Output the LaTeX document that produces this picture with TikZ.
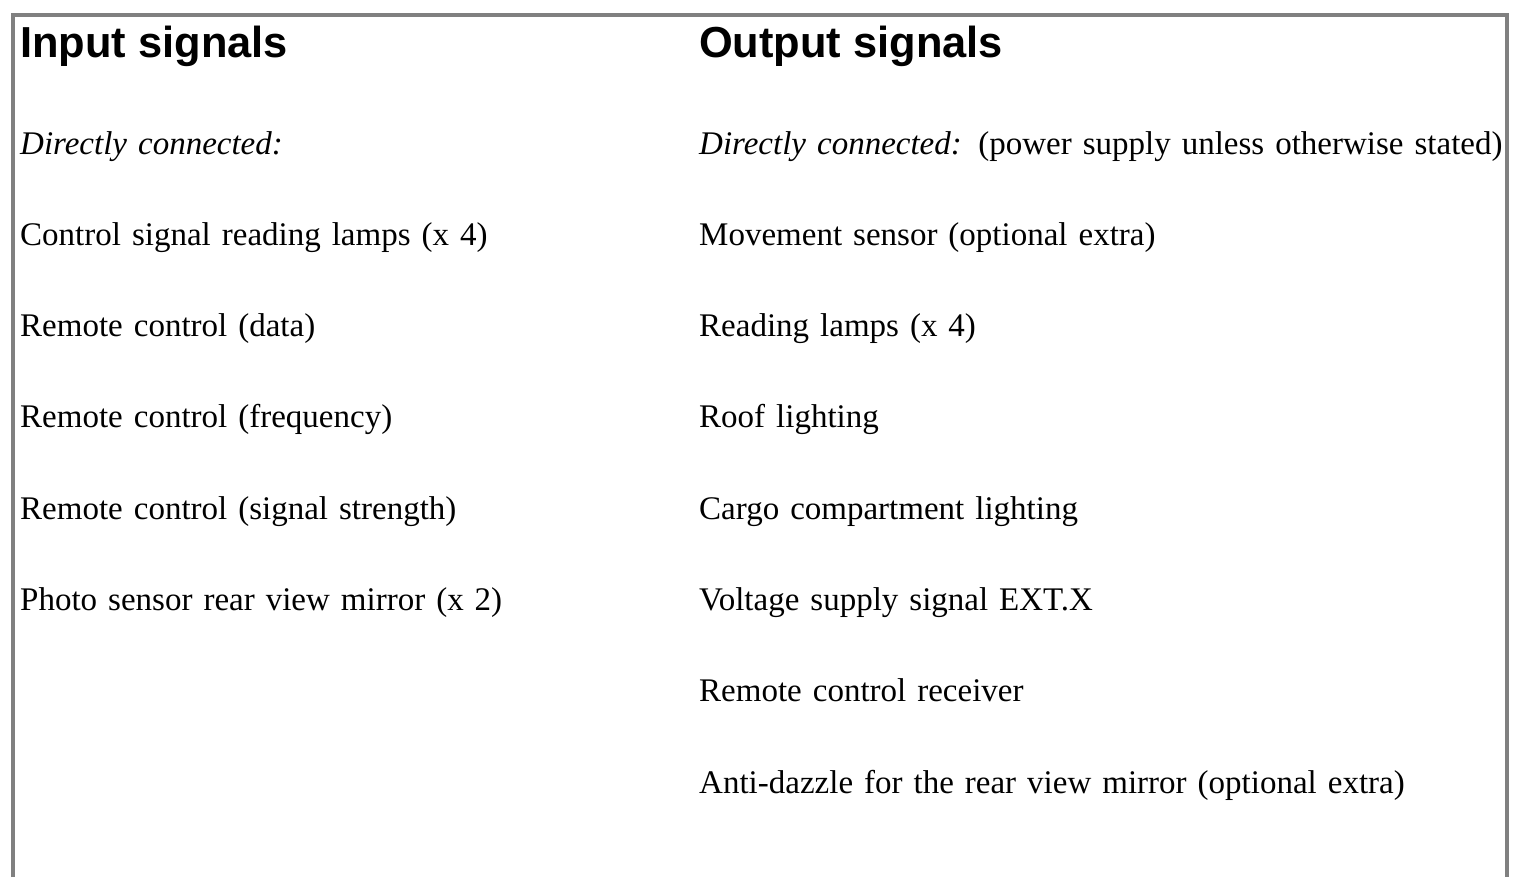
\documentclass[tikz,border=0pt]{standalone}
\usepackage{fontspec}
\setmainfont{Liberation Serif}
\setsansfont{Liberation Sans}
\newcommand{\headfont}{\sffamily\bfseries\fontsize{43.4}{50}\selectfont}
\newcommand{\sigfont}{\fontsize{33}{40}\selectfont}
\begin{document}
\begin{tikzpicture}[x=1pt, y=-1pt, node distance=91.3pt,
    head/.style = {font=\headfont, anchor=base west, inner sep=0pt},
    sig/.style = {font=\sigfont, text width=840pt, align=left, text height=24pt, text depth=8pt, inner sep=0pt},
    frame/.style = {draw=black!50, line width=4pt}]
        \useasboundingbox (0,0) rectangle (1536,888);
        \draw[frame] (13,877) -- (13,15) -- (1507,15) -- (1507,877);
        % input side
        \node[head] (inhead) at (20,58) {Input signals};
        \node[sig, anchor=base west] (in0) at (20,154) {\textit{Directly connected:}};
        \node[sig] (in1) [below of=in0] {Control signal reading lamps (x 4)};
        \node[sig] (in2) [below of=in1] {Remote control (data)};
        \node[sig] (in3) [below of=in2] {Remote control (frequency)};
        \node[sig] (in4) [below of=in3] {Remote control (signal strength)};
        \node[sig] (in5) [below of=in4] {Photo sensor rear view mirror (x 2)};
        % output side
        \node[head] (outhead) at (699,58) {Output signals};
        \node[sig, anchor=base west] (out0) at (699,154) {{\itshape Directly connected:} (power supply unless otherwise stated)};
        \node[sig] (out1) [below of=out0] {Movement sensor (optional extra)};
        \node[sig] (out2) [below of=out1] {Reading lamps (x 4)};
        \node[sig] (out3) [below of=out2] {Roof lighting};
        \node[sig] (out4) [below of=out3] {Cargo compartment lighting};
        \node[sig] (out5) [below of=out4] {Voltage supply signal EXT.X};
        \node[sig] (out6) [below of=out5] {Remote control receiver};
        \node[sig] (out7) [below of=out6] {Anti-dazzle for the rear view mirror (optional extra)};
\end{tikzpicture}
\end{document}
